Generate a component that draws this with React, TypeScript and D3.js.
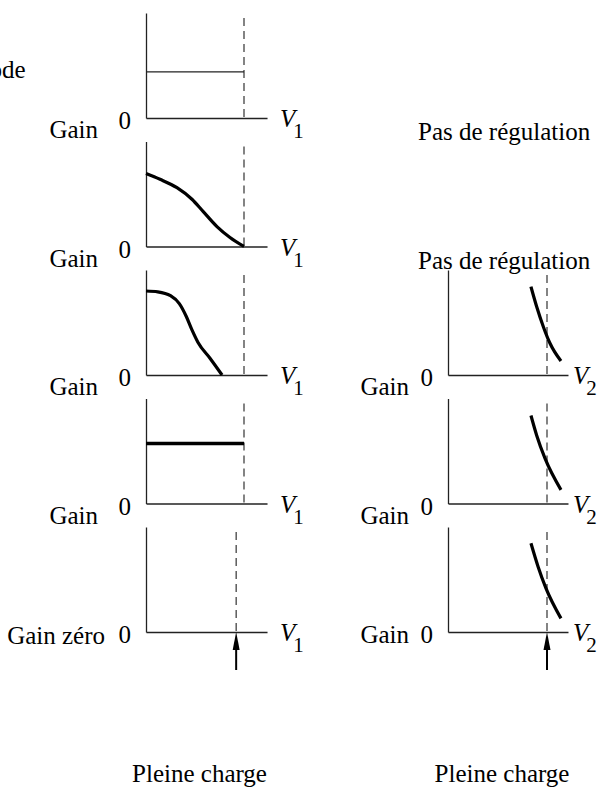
import * as d3 from 'd3';
import { useEffect, useRef } from 'react';

// x: voltage as a fraction of full load, y: gain as a fraction of axis height
const leftLabels = ['Gain', 'Gain', 'Gain', 'Gain', 'Gain zéro'];
const rightLabels = ['Gain', 'Gain', 'Gain'];
const rightNotes = ['Pas de régulation', 'Pas de régulation'];
const leftFullLoad = [1, 1, 1, 1, 0.92];
const rightFullLoad = [1, 1, 1];
const leftAxisLabel = 'V';
const leftSub = '1';
const rightSub = '2';
const bottomLabel = 'Pleine charge';
const cutLabel = 'Mode';

const leftCurve1: number[][] = [[0, 0.44], [1, 0.44]];
const leftCurve2: number[][] = [[0, 0.695], [0.143, 0.64], [0.316, 0.56], [0.469, 0.45], [0.582, 0.335], [0.724, 0.19], [0.857, 0.086], [1, 0]];
const leftCurve3: number[][] = [[0, 0.8], [0.12, 0.792], [0.25, 0.755], [0.34, 0.68], [0.41, 0.56], [0.469, 0.43], [0.531, 0.31], [0.653, 0.16], [0.776, 0]];
const leftCurve4: number[][] = [[0, 0.571], [1, 0.571]];
const leftCurve5: number[][] = [];

const rightCurve1: number[][] = [[0.838, 0.841], [0.896, 0.65], [0.963, 0.46], [1.03, 0.302], [1.141, 0.133]];
const rightCurve2: number[][] = [[0.838, 0.838], [0.896, 0.648], [0.98, 0.429], [1.141, 0.13]];
const rightCurve3: number[][] = [[0.838, 0.845], [0.91, 0.622], [0.99, 0.416], [1.141, 0.13]];

const leftCurves = [leftCurve1, leftCurve2, leftCurve3, leftCurve4, leftCurve5];
const leftWidths = [1.2, 3.2, 3.2, 3.5, 0];
const rightCurves = [rightCurve1, rightCurve2, rightCurve3];

export default function App() {
    const svgCur = useRef<SVGSVGElement | null>(null);

    useEffect(() => {
        const width = 605;
        const height = 787;
        const font = '"Liberation Serif", "Times New Roman", serif';
        const fs = 25;
        const panelH = 105;
        const rowStep = 128.5;
        const firstBase = 118;
        const axisColor = '#222';

        if (!svgCur.current) return;
        const svg = d3.select(svgCur.current)
            .attr('width', width)
            .attr('height', height)
            .attr('font-family', font);
        svg.selectAll('*').remove();

        const cols = {
            left: { x0: 146, x1: 244, xMax: 1.235, labelGap: 48, vGap: 13, sub: leftSub },
            right: { x0: 448, x1: 547, xMax: 1.212, labelGap: 39, vGap: 5, sub: rightSub },
        };

        const line = d3.line<number[]>().curve(d3.curveMonotoneX);

        const drawPanel = (col: typeof cols.left, row: number, data: number[][], lw: number,
            fullLoad: number, label: string, last: boolean) => {
            const base = firstBase + row * rowStep;
            const x = d3.scaleLinear().domain([0, 1]).range([col.x0, col.x1]);
            const y = d3.scaleLinear().domain([0, 1]).range([base, base - panelH]);
            const g = svg.append('g');

            // axes without ticks
            const xAxisScale = x.copy().domain([0, col.xMax]).range([col.x0, x(col.xMax)]);
            g.append('g')
                .attr('transform', `translate(0,${base})`)
                .call(d3.axisBottom(xAxisScale).tickValues([]).tickSizeOuter(0))
                .call(a => a.select('.domain').attr('stroke', axisColor).attr('stroke-width', 1.3));
            g.append('g')
                .attr('transform', `translate(${col.x0},0)`)
                .call(d3.axisLeft(y).tickValues([]).tickSizeOuter(0))
                .call(a => a.select('.domain').attr('stroke', axisColor).attr('stroke-width', 1.3));

            // full load marker
            g.append('line')
                .attr('x1', x(fullLoad)).attr('x2', x(fullLoad))
                .attr('y1', y(100 / panelH)).attr('y2', y(0))
                .attr('stroke', '#333')
                .attr('stroke-width', 1.2)
                .attr('stroke-dasharray', '8,5');

            if (data.length) {
                g.append('path')
                    .datum(data.map(d => [x(d[0]), y(d[1])]))
                    .attr('fill', 'none')
                    .attr('stroke', lw < 2 ? '#222' : '#000')
                    .attr('stroke-width', lw)
                    .attr('d', line);
            }

            const wide = label.length > 4;
            g.append('text')
                .attr('x', col.x0 - col.labelGap + (wide ? 7 : 0))
                .attr('y', wide ? base + 12 : last ? base + 11 : base + 20)
                .attr('text-anchor', 'end')
                .attr('font-size', fs)
                .text(label);
            g.append('text')
                .attr('x', col.x0 - 15)
                .attr('y', base + 11)
                .attr('text-anchor', 'end')
                .attr('font-size', fs)
                .text('0');

            const v = g.append('text')
                .attr('x', x(col.xMax) + col.vGap)
                .attr('y', base + 9)
                .attr('font-size', fs);
            v.append('tspan').attr('font-style', 'italic').text(leftAxisLabel);
            v.append('tspan').attr('dx', -2).attr('dy', 11).attr('font-size', 21).text(col.sub);

            if (last) {
                const ax = x(fullLoad);
                g.append('line')
                    .attr('x1', ax).attr('x2', ax)
                    .attr('y1', base + 14).attr('y2', base + 38)
                    .attr('stroke', '#000').attr('stroke-width', 2);
                g.append('path')
                    .attr('d', `M${ax},${base}L${ax - 3.5},${base + 18}L${ax + 3.5},${base + 18}Z`)
                    .attr('fill', '#000');
            }
        };

        leftCurves.forEach((c, i) => drawPanel(cols.left, i, c, leftWidths[i], leftFullLoad[i], leftLabels[i], i === leftCurves.length - 1));
        rightCurves.forEach((c, i) => drawPanel(cols.right, i + 2, c, 3.2, rightFullLoad[i], rightLabels[i], i === rightCurves.length - 1));

        rightNotes.forEach((t, i) => {
            svg.append('text')
                .attr('x', 418)
                .attr('y', firstBase + i * rowStep + 22)
                .attr('font-size', fs)
                .text(t);
        });

        [199.5, 502].forEach(cx => {
            svg.append('text')
                .attr('x', cx)
                .attr('y', 782)
                .attr('text-anchor', 'middle')
                .attr('font-size', fs)
                .text(bottomLabel);
        });

        svg.append('text')
            .attr('x', 25.5)
            .attr('y', 78)
            .attr('text-anchor', 'end')
            .attr('font-size', fs)
            .text(cutLabel);
    }, []);

    return (
        <div>
            <svg ref={svgCur} style={{ position: 'absolute', left: 0, top: 0, background: '#fff' }}></svg>
        </div>
    );
}
